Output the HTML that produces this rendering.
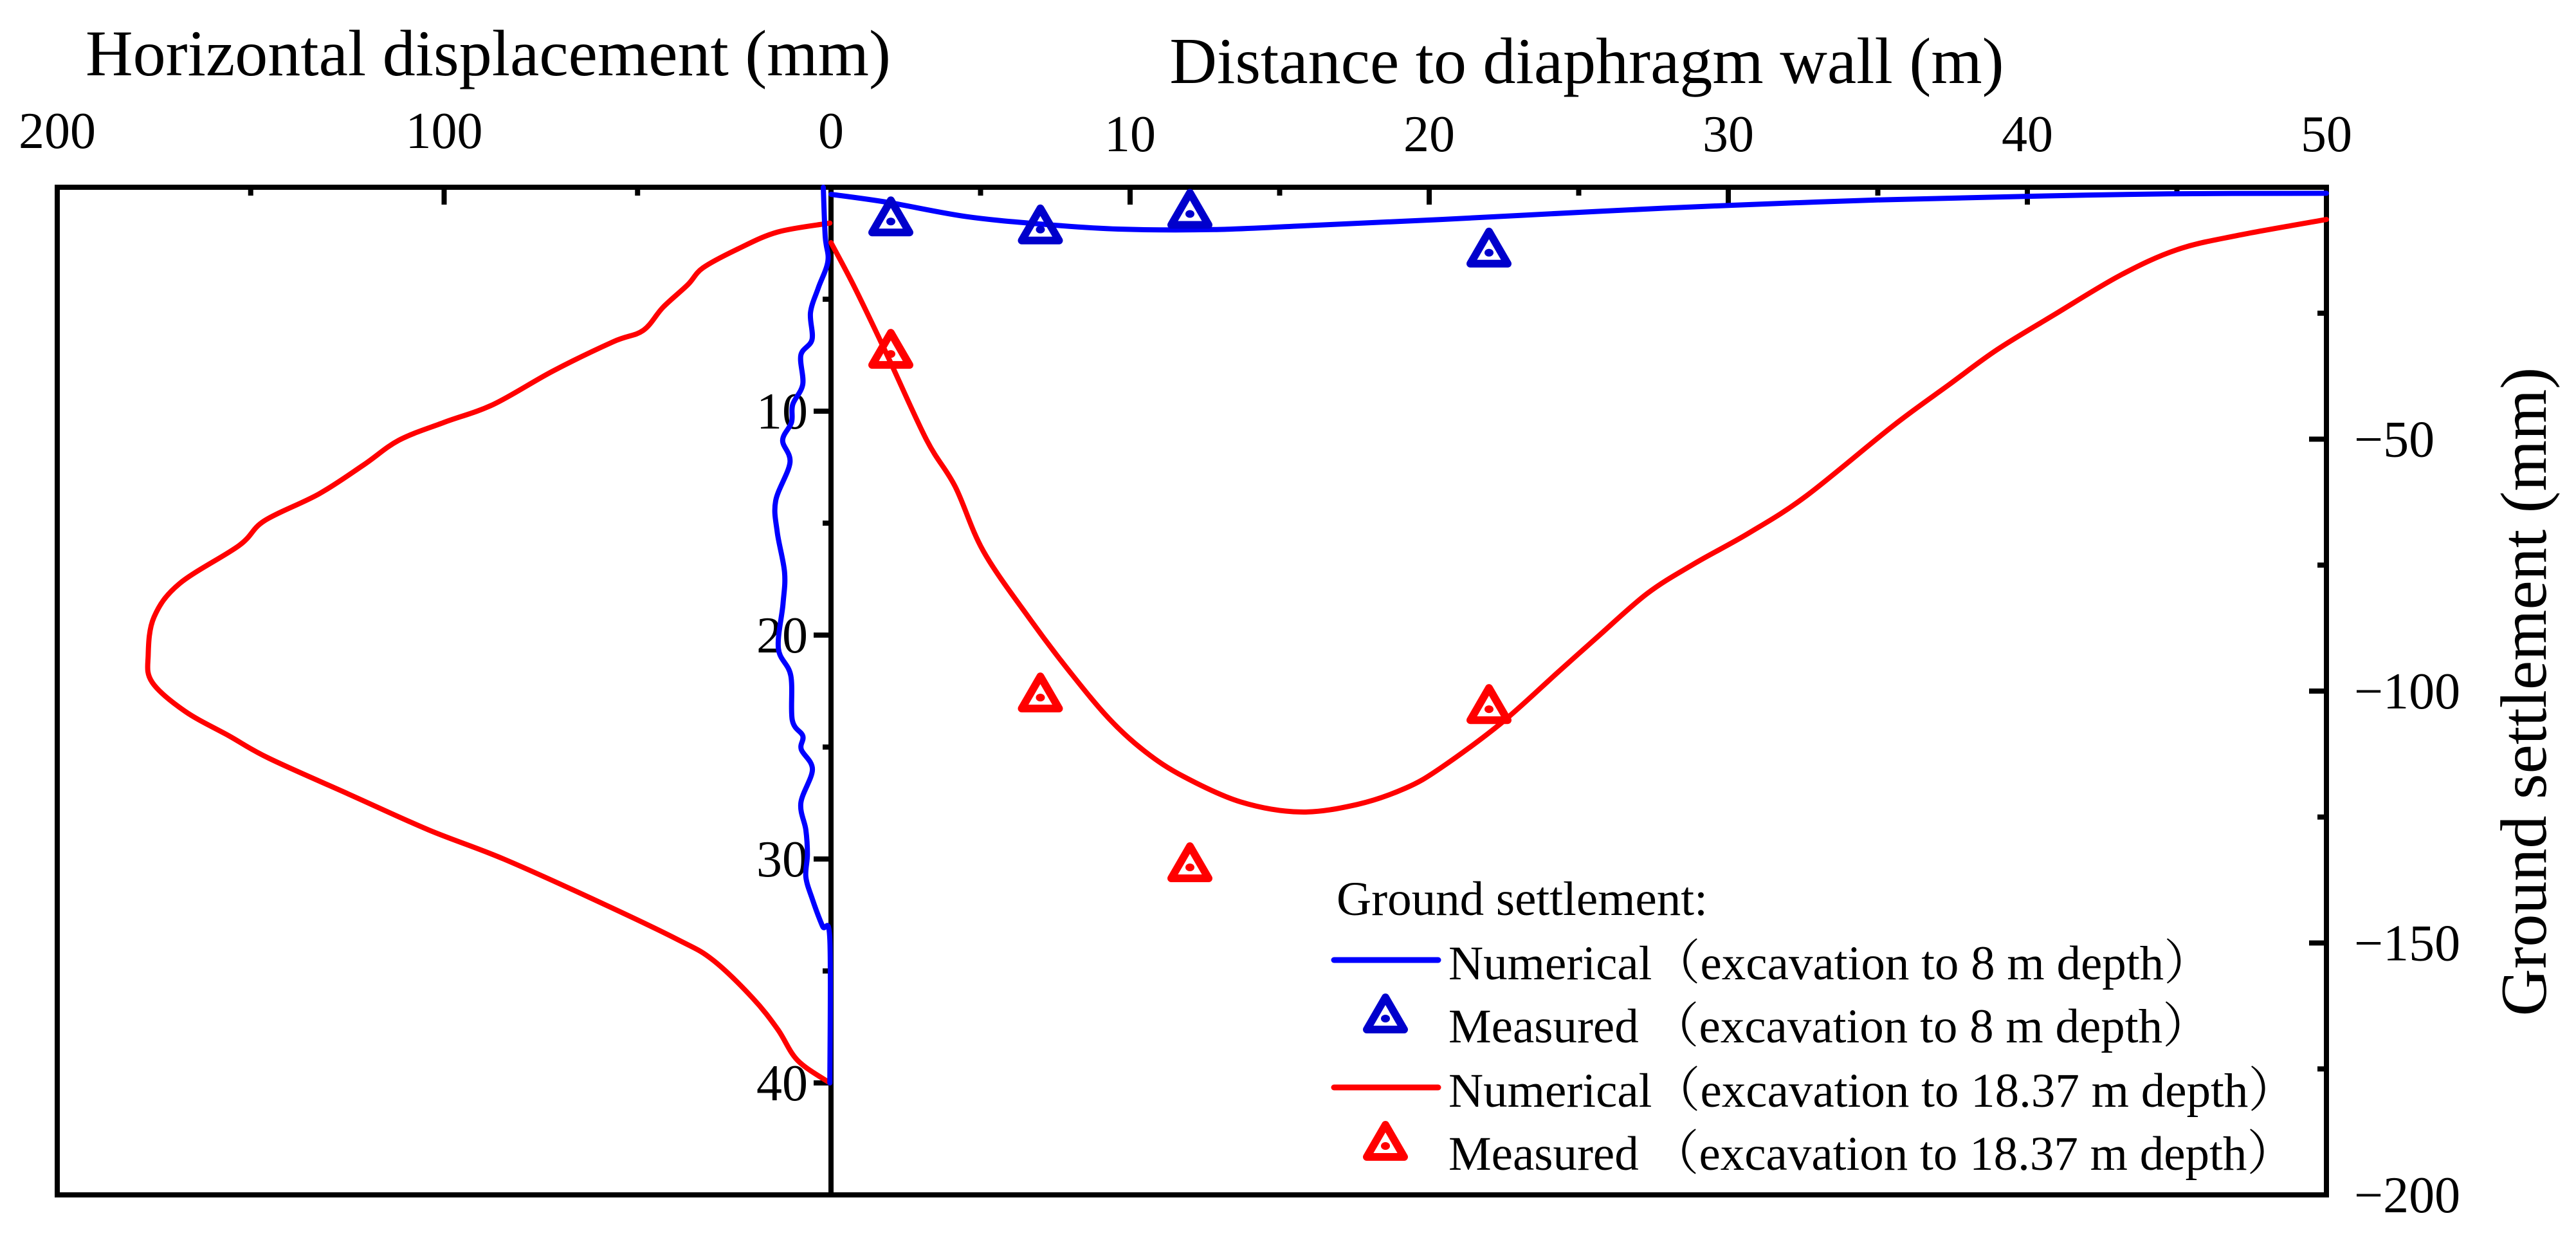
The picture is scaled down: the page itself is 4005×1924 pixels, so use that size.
<!DOCTYPE html>
<html><head><meta charset="utf-8"><style>
html,body{margin:0;padding:0;background:#fff;}
svg{display:block;}
text{font-family:"Liberation Serif","Noto Serif CJK SC",serif;fill:#000;}
</style></head><body>
<svg id="chart" width="4005" height="1924" viewBox="0 0 4005 1924" xmlns="http://www.w3.org/2000/svg">
<g id="axes"></g>
<g id="series"></g>
<text x="133" y="117" font-size="102">Horizontal displacement (mm)</text>
<text x="2467" y="129" font-size="102" text-anchor="middle">Distance to diaphragm wall (m)</text>
<text x="0" y="0" font-size="102" text-anchor="middle" transform="translate(3958,1075) rotate(-90)">Ground settlement (mm)</text>
<g id="legend">
<text x="2078" y="1422" font-size="75">Ground settlement:</text>
</g>
</svg>
<script>
// ---- data ----
const leftXTicks = [200, 100, 0];
const leftXMinor = [150, 50];
const depthTicks = [10, 20, 30, 40];
const depthMinor = [5, 15, 25, 35];
const rightXTicks = [0, 10, 20, 30, 40, 50];
const rightXMinor = [5, 15, 25, 35, 45];
const rightYTicks = [-50, -100, -150, -200];
const rightYMinor = [-25, -75, -125, -175];

// left panel: horizontal displacement (mm) vs depth (m)
const redDispU = [0.3,13.8,24.1,33.1,37,43.4,48.6,56.3,71.8,87.3,100,111.7,120.8,132.4,146.5,153,168.4,175,176.5,175.5,167,155.6,145.3,124.7,104,84.6,58.9,39.6,30.6,20.3,13.8,8.6,0.3];
const redDispZ = [1.6,2.0,2.76,3.6,4.35,5.36,6.4,6.9,8.2,9.7,10.5,11.3,12.4,13.7,14.9,16,17.7,19.2,20.9,22.1,23.4,24.5,25.5,27.1,28.7,30,32,33.6,34.5,36.2,37.6,39,40];
const blueDispU = [2,1.5,0.8,3.3,5.3,4.9,7.8,7.3,9.9,10.2,12.5,10.6,14.3,13.9,12,12.4,13.6,10.4,10,7.3,7.7,4.8,7.8,6.5,6.1,6.5,4.8,2.2,0.3,0.3];
const blueDispZ = [0,2.2,3.3,4.5,5.6,6.8,7.5,8.8,9.7,10.5,11.3,12.3,14,15.4,17.2,18.6,20.6,21.8,23.8,24.5,25.1,26,27.5,28.7,29.8,30.8,31.8,33,33.6,40];

// right panel: settlement (mm) vs distance (m)
const blueNumD = [0,1.9,4.5,7,9.6,12.8,16,20.4,25.6,30,35.1,40,44.7,50];
const blueNumS = [-1.4,-3,-5.8,-7.3,-8.3,-8.4,-7.6,-6.4,-4.8,-3.6,-2.5,-1.8,-1.3,-1.2];
const redNumD = [0,0.8,1.9,3.2,4.15,5.1,6.7,8,9.3,10.5,11.8,13.7,15.7,17.6,19.2,20.4,22.4,24.3,25.6,27.3,28.9,30.7,32.6,35.5,37.4,39,40.9,43.1,45,47,50];
const redNumS = [-11,-20,-33.6,-50.2,-59.4,-72.3,-86.1,-96.3,-105.5,-112,-117,-122,-124,-122.5,-119.3,-115.2,-106.4,-96.3,-89.4,-80.6,-74.6,-68.6,-61.3,-47.4,-39.1,-32.2,-25.3,-17.5,-12.4,-9.6,-6.4];
const blueMeasD = [2, 7, 12, 22];
const blueMeasS = [-6.8, -8.4, -5.3, -13];
const redMeasD = [2, 7, 12, 22];
const redMeasS = [-33.1, -101.3, -135, -103.6];
const legendLabels = ["Numerical（excavation to 8 m depth）","Measured （excavation to 8 m depth）","Numerical（excavation to 18.37 m depth）","Measured （excavation to 18.37 m depth）"];

// ---- scales ----
const L = 89, M = 1292, R = 3617, T = 291, B = 1857;
const xU = u => M - u * (M - L) / 200;
const yZ = z => T + z * (B - T) / 45;
const xD = d => M + d * (R - M) / 50;
const yS = s => T + (-s) * (B - T) / 200;

const NS = "http://www.w3.org/2000/svg";
const axes = document.getElementById('axes');
const series = document.getElementById('series');
const legend = document.getElementById('legend');
function mk(tag, attrs, parent) {
  const e = document.createElementNS(NS, tag);
  for (const k in attrs) e.setAttribute(k, attrs[k]);
  parent.appendChild(e);
  return e;
}

// frame
let el = mk('rect', {x: L, y: T, width: R - L, height: B - T, fill: 'none', stroke: '#000', 'stroke-width': 8}, axes);


el = mk('line', {x1: M, y1: T, x2: M, y2: B, stroke: '#000', 'stroke-width': 8}, axes);



// left top ticks
leftXTicks.forEach(v => {
  const x = xU(v);
  if (v !== 200 && v !== 0) {
    const t = mk('line', {x1: x, y1: T, x2: x, y2: T + 27, stroke: '#000', 'stroke-width': 8}, axes);
    
    
  }
  const lb = mk('text', {x: x, y: 230, 'font-size': 80, 'text-anchor': 'middle'}, axes);
  lb.textContent = v;
  
  
});
leftXMinor.forEach(v => {
  const t = mk('line', {x1: xU(v), y1: T, x2: xU(v), y2: T + 13, stroke: '#000', 'stroke-width': 8}, axes);
  
  
});
// depth ticks
depthTicks.forEach(v => {
  const y = yZ(v);
  const t = mk('line', {x1: M - 27, y1: y, x2: M, y2: y, stroke: '#000', 'stroke-width': 8}, axes);
  
  
  const lb = mk('text', {x: M - 36, y: y + 27, 'font-size': 80, 'text-anchor': 'end'}, axes);
  lb.textContent = v;
  
  
});
depthMinor.forEach(v => {
  const t = mk('line', {x1: M - 13, y1: yZ(v), x2: M, y2: yZ(v), stroke: '#000', 'stroke-width': 8}, axes);
  
  
});
// right top ticks
rightXTicks.forEach(v => {
  const x = xD(v);
  if (v !== 0 && v !== 50) {
    const t = mk('line', {x1: x, y1: T, x2: x, y2: T + 27, stroke: '#000', 'stroke-width': 8}, axes);
    
    
  }
  if (v !== 0) {
    const lb = mk('text', {x: x, y: 235, 'font-size': 80, 'text-anchor': 'middle'}, axes);
    lb.textContent = v;
    
    
  }
});
rightXMinor.forEach(v => {
  const t = mk('line', {x1: xD(v), y1: T, x2: xD(v), y2: T + 13, stroke: '#000', 'stroke-width': 8}, axes);
  
  
});
// right y ticks
rightYTicks.forEach(v => {
  const y = yS(v);
  const t = mk('line', {x1: R - 27, y1: y, x2: R, y2: y, stroke: '#000', 'stroke-width': 8}, axes);
  
  
  const lb = mk('text', {x: 3660, y: y + 27, 'font-size': 80}, axes);
  lb.textContent = '\u2212' + Math.abs(v);
  
  
});
rightYMinor.forEach(v => {
  const t = mk('line', {x1: R - 14, y1: yS(v), x2: R, y2: yS(v), stroke: '#000', 'stroke-width': 8}, axes);
  
  
});

// smooth path (Catmull-Rom)
function smoothPath(pts) {
  let d = 'M' + pts[0][0].toFixed(1) + ',' + pts[0][1].toFixed(1);
  for (let i = 0; i < pts.length - 1; i++) {
    const p0 = pts[i - 1] || pts[i], p1 = pts[i], p2 = pts[i + 1], p3 = pts[i + 2] || p2;
    const c1x = p1[0] + (p2[0] - p0[0]) / 6, c1y = p1[1] + (p2[1] - p0[1]) / 6;
    const c2x = p2[0] - (p3[0] - p1[0]) / 6, c2y = p2[1] - (p3[1] - p1[1]) / 6;
    d += ' C' + c1x.toFixed(1) + ',' + c1y.toFixed(1) + ' ' + c2x.toFixed(1) + ',' + c2y.toFixed(1) + ' ' + p2[0].toFixed(1) + ',' + p2[1].toFixed(1);
  }
  return d;
}
function line(xs, ys, fx, fy, color, w, name) {
  const pts = xs.map((v, i) => [fx(v), fy(ys[i])]);
  const p = mk('path', {d: smoothPath(pts), fill: 'none', stroke: color, 'stroke-width': w, 'stroke-linejoin': 'round', 'stroke-linecap': 'round'}, series);
  
  
}
function tri(cx, cy, color, parent, name) {
  const g = mk('g', {}, parent);
  
  
  mk('polygon', {points: `${cx},${cy-33} ${cx+29},${cy+17} ${cx-29},${cy+17}`, fill: 'none', stroke: color, 'stroke-width': 12, 'stroke-linejoin': 'round'}, g);
  mk('ellipse', {cx: cx, cy: cy, rx: 7, ry: 6, fill: color}, g);
}
line(redDispU, redDispZ, xU, yZ, '#ff0000', 8, 'red-displacement-line');
line(blueDispU, blueDispZ, xU, yZ, '#0000ff', 8, 'blue-displacement-line');
line(redNumD, redNumS, xD, yS, '#ff0000', 8, 'red-numerical-settlement-line');
line(blueNumD, blueNumS, xD, yS, '#0000ff', 8, 'blue-numerical-settlement-line');
blueMeasD.forEach((d, i) => tri(xD(d), yS(blueMeasS[i]), '#0000cc', series, 'blue-measured-point'));
redMeasD.forEach((d, i) => tri(xD(d), yS(redMeasS[i]), '#ff0000', series, 'red-measured-point'));

// legend
const rowY = [1522, 1620, 1720, 1818];
const rowColor = ['#0000ff', '#0000cc', '#ff0000', '#ff0000'];
legendLabels.forEach((lab, i) => {
  const g = mk('g', {}, legend);
  
  
  if (i % 2 === 0) {
    mk('line', {x1: 2074, y1: rowY[i] - 30, x2: 2236, y2: rowY[i] - 30, stroke: rowColor[i], 'stroke-width': 9, 'stroke-linecap': 'round'}, g);
  } else {
    tri(2154, rowY[i] - 37, rowColor[i], g, 'legend-marker');
  }
  const t = mk('text', {x: 2252, y: rowY[i], 'font-size': 75}, g);
  t.textContent = lab;
});
</script>
</body></html>
